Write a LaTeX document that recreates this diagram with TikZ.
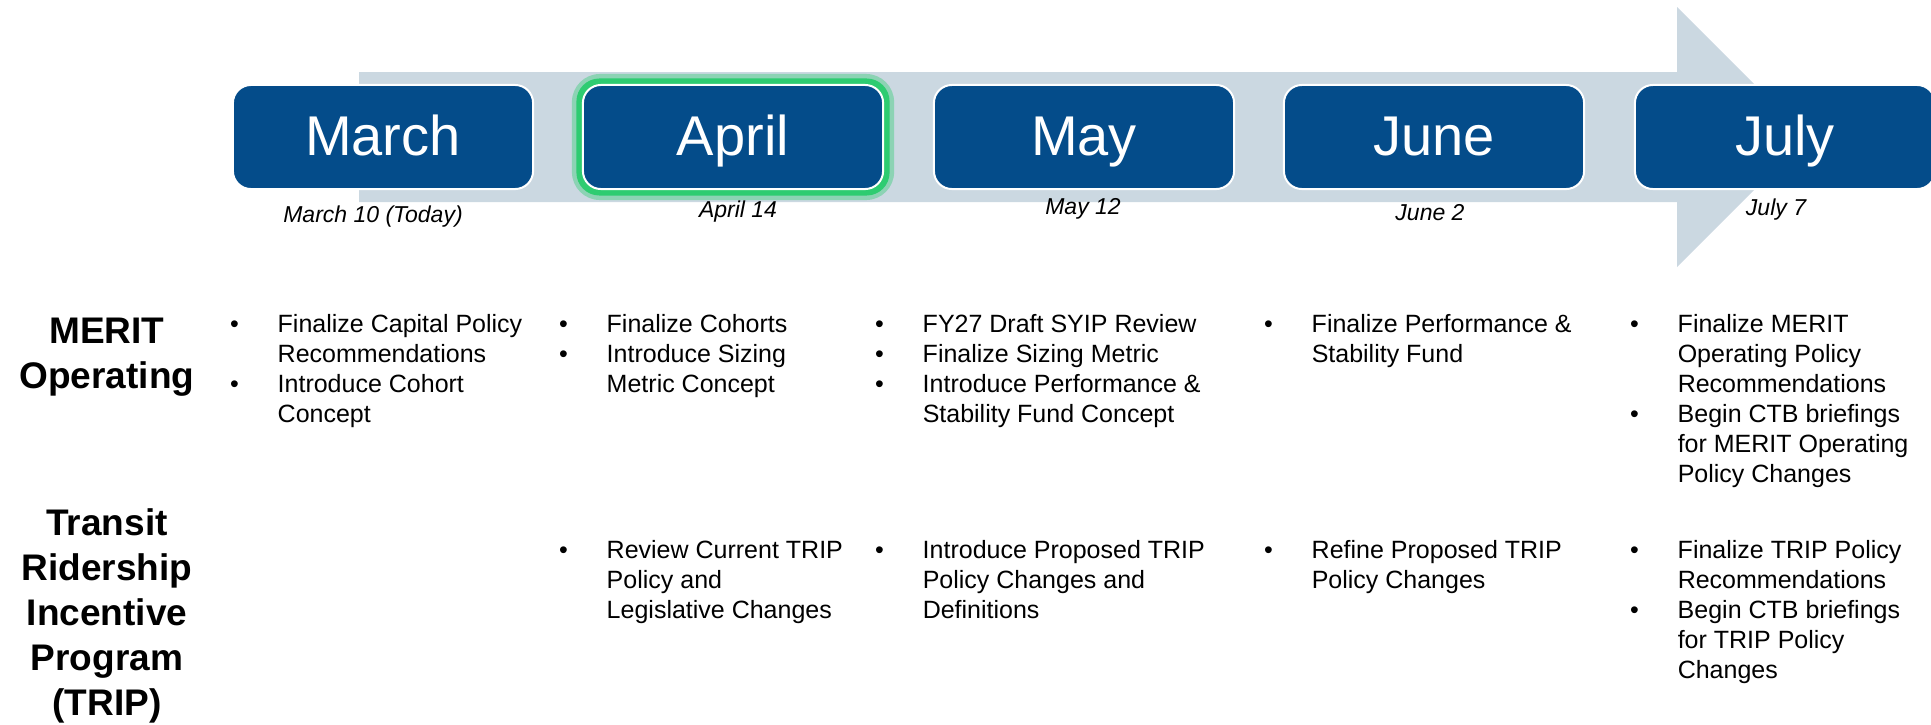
\documentclass[tikz,border=0pt]{standalone}
\usepackage{fontspec}
\setmainfont{Liberation Sans}
\usetikzlibrary{arrows}
\definecolor{monthblue}{RGB}{4,76,138}
\definecolor{bandgray}{RGB}{203,216,225}
\definecolor{glowgreen}{RGB}{46,204,113}
\newcommand{\bodyfont}{\fontsize{7.11}{8.54}\selectfont}
\newcommand{\labelfont}{\fontsize{10.53}{12.8}\selectfont\bfseries}
\newcommand{\bul}{\makebox[0.475cm][l]{\textbullet}}
\newcommand{\bulletlist}[1]{\begin{tabular}[t]{@{}l@{}l@{}}#1\end{tabular}}
\newcommand{\rowtitle}[1]{\begin{tabular}[t]{@{}c@{}}#1\end{tabular}}
\tikzstyle{monthbox}=[rectangle, rounded corners=0.18cm, draw=white, line width=0.02cm, fill=monthblue, text=white, font=\fontsize{15.93}{18}\selectfont, minimum width=3cm, minimum height=1.04cm, text height=0.44cm, text depth=0.08cm, inner sep=0pt]
\tikzstyle{glowbox}=[rectangle, rounded corners=0.23cm, fill=glowgreen, minimum width=3.13cm, minimum height=1.17cm, inner sep=0pt]
\tikzstyle{datelabel}=[anchor=base, inner sep=0pt, font=\fontsize{6.54}{7.8}\selectfont\itshape]
\tikzstyle{rowlabel}=[anchor=base, inner sep=0pt, font=\labelfont]
\tikzstyle{itemcell}=[anchor=base west, inner sep=0pt, font=\bodyfont]

\begin{document}
\begin{tikzpicture}[x=0.01cm,y=-0.01cm]
  \useasboundingbox (0,0) rectangle (1931,724);
  \coordinate (bandstart) at (359,137);
  \coordinate (bandtip) at (1807,137);
  \fill[bandgray] (359,72) -- (1677,72) -- (1677,7) -- (bandtip) -- (1677,267) -- (1677,202) -- (359,202) -- cycle;
  \node[glowbox, minimum width=3.22cm, minimum height=1.26cm, rounded corners=0.28cm, opacity=0.4] (aprilhalo) at (733,137) {};
  \node[glowbox] (aprilglow) at (733,137) {};
  \node[monthbox] (march) at (383,137) {March};
  \node[monthbox] (april) at (733,137) {April};
  \node[monthbox] (may) at (1084,137) {May};
  \node[monthbox] (june) at (1434,137) {June};
  \node[monthbox] (july) at (1785,137) {July};
  \node[datelabel] (marchdate) at (373,222) {March 10 (Today)};
  \node[datelabel] (aprildate) at (738,217) {April 14};
  \node[datelabel] (maydate) at (1083,214) {May 12};
  \node[datelabel] (junedate) at (1430,220) {June 2};
  \node[datelabel] (julydate) at (1776,215) {July 7};
  \node[rowlabel] (merit) at (107,343) {\rowtitle{MERIT\\Operating}};
  \node[rowlabel] (trip) at (107,535) {\rowtitle{Transit\\Ridership\\Incentive\\Program\\(TRIP)}};
  \node[itemcell] (meritmarch) at (229.5,332) {\bulletlist{\bul & Finalize Capital Policy\\ & Recommendations\\ \bul & Introduce Cohort\\ & Concept}};
  \node[itemcell] (meritapril) at (558.5,332) {\bulletlist{\bul & Finalize Cohorts\\ \bul & Introduce Sizing\\ & Metric Concept}};
  \node[itemcell] (meritmay) at (874.5,332) {\bulletlist{\bul & FY27 Draft SYIP Review\\ \bul & Finalize Sizing Metric\\ \bul & Introduce Performance \&\\ & Stability Fund Concept}};
  \node[itemcell] (meritjune) at (1263.5,332) {\bulletlist{\bul & Finalize Performance \&\\ & Stability Fund}};
  \node[itemcell] (meritjuly) at (1629.5,332) {\bulletlist{\bul & Finalize MERIT\\ & Operating Policy\\ & Recommendations\\ \bul & Begin CTB briefings\\ & for MERIT Operating\\ & Policy Changes}};
  \node[itemcell] (tripapril) at (558.5,558) {\bulletlist{\bul & Review Current TRIP\\ & Policy and\\ & Legislative Changes}};
  \node[itemcell] (tripmay) at (874.5,558) {\bulletlist{\bul & Introduce Proposed TRIP\\ & Policy Changes and\\ & Definitions}};
  \node[itemcell] (tripjune) at (1263.5,558) {\bulletlist{\bul & Refine Proposed TRIP\\ & Policy Changes}};
  \node[itemcell] (tripjuly) at (1629.5,558) {\bulletlist{\bul & Finalize TRIP Policy\\ & Recommendations\\ \bul & Begin CTB briefings\\ & for TRIP Policy\\ & Changes}};
\end{tikzpicture}
\end{document}
